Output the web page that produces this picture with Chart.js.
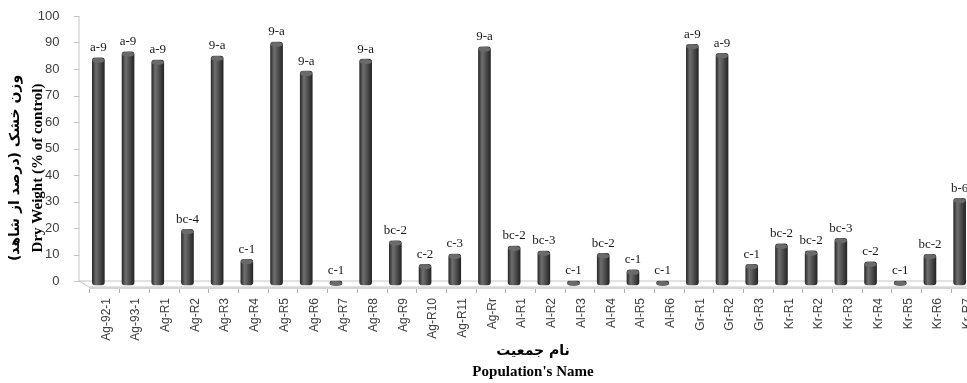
<!DOCTYPE html>
<html>
<head>
<meta charset="utf-8">
<script src="https://cdn.jsdelivr.net/npm/chart.js@4.4.1/dist/chart.umd.min.js"></script>
<style>
  html, body { margin: 0; padding: 0; background: #fff; overflow: hidden; width: 967px; height: 383px; }
  canvas { display: block; }
</style>
</head>
<body>
<canvas id="dw-chart" width="985" height="383"></canvas>
<script>
// populations on the x axis
const categories = ['Ag-92-1', 'Ag-93-1', 'Ag-R1', 'Ag-R2', 'Ag-R3', 'Ag-R4', 'Ag-R5', 'Ag-R6', 'Ag-R7', 'Ag-R8',
  'Ag-R9', 'Ag-R10', 'Ag-R11', 'Ag-Rr', 'Al-R1', 'Al-R2', 'Al-R3', 'Al-R4', 'Al-R5', 'Al-R6',
  'Gr-R1', 'Gr-R2', 'Gr-R3', 'Kr-R1', 'Kr-R2', 'Kr-R3', 'Kr-R4', 'Kr-R5', 'Kr-R6', 'Kr-R7'];
// dry weight, % of control
const dryWeight = [84.2, 86.5, 83.4, 19.5, 84.9, 8.2, 90.2, 79.2, 0, 83.7,
  15.2, 6.3, 10.2, 88.4, 13.2, 11.3, 0, 10.4, 4.2, 0,
  89.3, 85.9, 6.3, 14.0, 11.4, 16.1, 7.2, 0, 10.1, 31.2];
// mean separation letters above bars
const letters = ['a-9', 'a-9', 'a-9', 'bc-4', '9-a', 'c-1', '9-a', '9-a', 'c-1', '9-a',
  'bc-2', 'c-2', 'c-3', '9-a', 'bc-2', 'bc-3', 'c-1', 'bc-2', 'c-1', 'c-1',
  'a-9', 'a-9', 'c-1', 'bc-2', 'bc-2', 'bc-3', 'c-2', 'c-1', 'bc-2', 'b-6'];
const yTicks = [0, 10, 20, 30, 40, 50, 60, 70, 80, 90, 100];

const yTitleFa = 'وزن خشک (درصد از شاهد)';
const yTitleEn = 'Dry Weight (% of control)';
const xTitleFa = 'نام جمعیت';
const xTitleEn = "Population's Name";

const DEPTH_X = 10, DEPTH_Y = 6;  // 3d floor offset

function cylinderFill(ctx) {
  const chart = ctx.chart;
  const xs = chart.scales.x;
  if (!xs || ctx.dataIndex === undefined) return '#4a4a4a';
  const cx = xs.getPixelForValue(ctx.dataIndex);
  if (!Number.isFinite(cx)) return '#4a4a4a';
  const g = chart.ctx.createLinearGradient(cx - 6, 0, cx + 6, 0);
  g.addColorStop(0, '#2b2b2b');
  g.addColorStop(0.3, '#6f6f6f');
  g.addColorStop(0.55, '#565656');
  g.addColorStop(1, '#252525');
  return g;
}

// floor, left wall and tick marks
const framePlugin = {
  id: 'frame',
  beforeDatasetsDraw(chart) {
    const { ctx, chartArea, scales } = chart;
    const y0 = scales.y.getPixelForValue(0);
    const wallX = chartArea.left - 4.5;
    ctx.save();
    ctx.strokeStyle = '#c4c4c4';
    ctx.lineWidth = 1;
    ctx.beginPath();
    ctx.moveTo(wallX, scales.y.getPixelForValue(100));
    ctx.lineTo(wallX, y0);
    ctx.lineTo(chart.width, y0);
    ctx.stroke();
    yTicks.forEach(v => {
      const py = Math.round(scales.y.getPixelForValue(v)) + 0.5;
      ctx.beginPath();
      ctx.moveTo(wallX - 5, py);
      ctx.lineTo(wallX, py);
      ctx.stroke();
    });
    // floor edge
    ctx.beginPath();
    ctx.moveTo(wallX, y0);
    ctx.lineTo(wallX + DEPTH_X, y0 + DEPTH_Y);
    ctx.lineTo(chart.width, y0 + DEPTH_Y);
    ctx.stroke();
    ctx.strokeStyle = '#d6d6d6';
    ctx.lineWidth = 2;
    ctx.beginPath();
    ctx.moveTo(wallX + DEPTH_X, y0 + DEPTH_Y + 1);
    ctx.lineTo(chart.width, y0 + DEPTH_Y + 1);
    ctx.stroke();
    ctx.strokeStyle = '#b0b0b0';
    ctx.lineWidth = 1;
    const step = scales.x.getPixelForValue(1) - scales.x.getPixelForValue(0);
    for (let i = 0; i <= categories.length; i++) {
      const px = Math.round(scales.x.getPixelForValue(0) - step / 2 + DEPTH_X / 2 + 1 + i * step) + 0.5;
      ctx.beginPath();
      ctx.moveTo(px, y0 + DEPTH_Y + 2);
      ctx.lineTo(px, y0 + DEPTH_Y + 6);
      ctx.stroke();
    }
    ctx.restore();
  },
  afterDatasetsDraw(chart) {
    const { ctx } = chart;
    const meta = chart.getDatasetMeta(0);
    ctx.save();
    meta.data.forEach((bar, i) => {
      const w = bar.width;
      // top cap of the cylinder
      ctx.fillStyle = '#6a6a6a';
      ctx.beginPath();
      ctx.ellipse(bar.x, bar.y + 2.5, w / 2, 2.5, 0, 0, Math.PI * 2);
      ctx.fill();
      // letters
      ctx.fillStyle = '#1a1a1a';
      ctx.font = '13px "Liberation Serif", "Times New Roman", serif';
      ctx.textAlign = 'center';
      ctx.textBaseline = 'middle';
      ctx.fillText(letters[i], bar.x, bar.y - 10);
    });
    ctx.restore();
  },
  afterDraw(chart) {
    const { ctx, chartArea } = chart;
    ctx.save();
    ctx.fillStyle = '#000';
    ctx.textAlign = 'center';
    ctx.textBaseline = 'middle';
    // y title, two lines
    ctx.translate(0, 168);
    ctx.rotate(-Math.PI / 2);
    ctx.direction = 'rtl';
    ctx.font = 'bold 14px "DejaVu Sans", sans-serif';
    ctx.fillText(yTitleFa, 0, 15);
    ctx.direction = 'ltr';
    ctx.font = 'bold 15px "Liberation Serif", "Times New Roman", serif';
    ctx.fillText(yTitleEn, 0, 38);
    ctx.restore();

    ctx.save();
    ctx.fillStyle = '#000';
    ctx.textAlign = 'center';
    ctx.textBaseline = 'middle';
    const cx = (chartArea.left + chartArea.right) / 2 + 4;
    ctx.direction = 'rtl';
    ctx.font = 'bold 14px "DejaVu Sans", sans-serif';
    ctx.fillText(xTitleFa, cx, 351);
    ctx.direction = 'ltr';
    ctx.font = 'bold 15px "Liberation Serif", "Times New Roman", serif';
    ctx.fillText(xTitleEn, cx, 372);
    ctx.restore();
  }
};

const chart = new Chart(document.getElementById('dw-chart'), {
  type: 'bar',
  data: {
    labels: categories,
    datasets: [{
      data: dryWeight,
      base: -1.5,
      backgroundColor: cylinderFill,
      borderWidth: 0,
      borderRadius: 3,
      borderSkipped: false,
      barThickness: 12,
      clip: false,
    }],
  },
  options: {
    responsive: false,
    animation: false,
    devicePixelRatio: 1,
    layout: { padding: { left: 0, right: 10.5, top: 16, bottom: 0 } },
    plugins: {
      legend: { display: false },
      tooltip: { enabled: false },
    },
    scales: {
      x: {
        grid: { display: false },
        border: { display: false },
        ticks: {
          autoSkip: false,
          minRotation: 90,
          maxRotation: 90,
          padding: 9,
          labelOffset: 8,
          color: '#404040',
          font: { family: '"Liberation Sans", Arial, sans-serif', size: 12 },
        },
        afterFit(scale) {
          scale.height = 102;
          scale.paddingLeft = 0;
          scale.paddingRight = 0;
        },
      },
      y: {
        min: 0,
        max: 100,
        grid: { display: false },
        border: { display: false },
        ticks: {
          stepSize: 10,
          padding: 16,
          color: '#404040',
          font: { family: '"Liberation Sans", Arial, sans-serif', size: 13 },
        },
        afterBuildTicks(scale) { scale.ticks = yTicks.map(v => ({ value: v })); },
        afterFit(scale) {
          scale.width = 83.5;
          scale.paddingTop = 0;
          scale.paddingBottom = 0;
        },
      },
    },
  },
  plugins: [framePlugin],
});
</script>
</body>
</html>
